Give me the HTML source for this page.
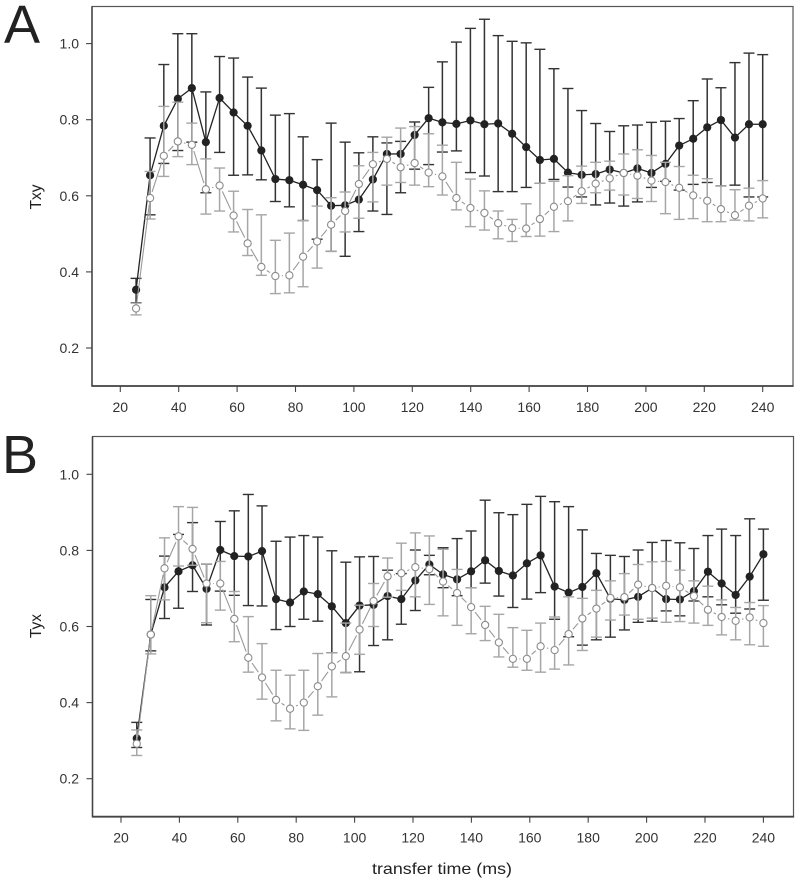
<!DOCTYPE html>
<html>
<head>
<meta charset="utf-8">
<title>Txy and Tyx versus transfer time</title>
<style>
html,body{margin:0;padding:0;background:#fff;width:798px;height:884px;overflow:hidden}
svg{display:block;font-family:"Liberation Sans",sans-serif}
</style>
</head>
<body>
<svg id="chart" xmlns="http://www.w3.org/2000/svg" width="798" height="884" viewBox="0 0 798 884"></svg>
<script>
const transferTimes = [25.4,30.2,34.9,39.7,44.5,49.3,54.0,58.8,63.6,68.3,73.1,77.9,82.6,87.4,92.2,97.0,101.7,106.5,111.3,116.0,120.8,125.6,130.3,135.1,139.9,144.7,149.4,154.2,159.0,163.7,168.5,173.3,178.0,182.8,187.6,192.4,197.1,201.9,206.7,211.4,216.2,221.0,225.7,230.5,235.3,240.0];
const xTicks = [20,40,60,80,100,120,140,160,180,200,220,240];
const yTicks = [0.2,0.4,0.6,0.8,1.0];

const txyDarkMean = [.353,.654,.784,.855,.883,.741,.857,.819,.784,.719,.644,.641,.629,.615,.574,.575,.590,.643,.710,.710,.760,.804,.793,.789,.798,.788,.790,.763,.728,.694,.697,.661,.655,.657,.669,.660,.672,.660,.684,.732,.750,.780,.799,.753,.788,.788];
const txyDarkUpper = [.383,.752,.945,1.026,1.026,.873,.966,.962,.912,.883,.812,.816,.755,.695,.791,.741,.713,.755,.739,.743,.794,.885,.952,1.004,1.040,1.064,1.021,1.006,1.002,.985,.934,.882,.824,.790,.769,.784,.786,.793,.796,.803,.850,.907,.884,.950,.975,.971];
const txyDarkLower = [.319,.550,.685,.719,.741,.608,.714,.654,.655,.642,.585,.571,.535,.486,.454,.441,.506,.560,.551,.608,.670,.682,.715,.718,.661,.652,.611,.611,.622,.633,.643,.623,.597,.576,.581,.573,.584,.622,.638,.615,.630,.635,.626,.628,.597,.597];
const txyOpenMean = [.304,.594,.705,.743,.734,.617,.627,.548,.475,.413,.389,.391,.440,.480,.524,.560,.631,.683,.697,.675,.686,.661,.651,.594,.568,.555,.528,.515,.514,.539,.571,.586,.612,.632,.646,.660,.653,.640,.636,.621,.601,.587,.565,.549,.574,.593];
const txyOpenUpper = [.318,.664,.835,.846,.791,.697,.673,.612,.564,.550,.483,.502,.535,.573,.595,.610,.679,.714,.754,.778,.782,.763,.733,.688,.644,.613,.560,.538,.579,.633,.638,.653,.678,.688,.691,.710,.721,.706,.688,.677,.654,.645,.626,.616,.620,.640];
const txyOpenLower = [.287,.539,.651,.703,.682,.552,.560,.505,.443,.391,.343,.345,.361,.410,.454,.505,.541,.584,.628,.635,.628,.624,.602,.563,.519,.510,.487,.480,.493,.494,.506,.534,.580,.608,.615,.602,.593,.585,.553,.538,.540,.532,.532,.536,.534,.542];

const tyxDarkMean = [.306,.579,.703,.745,.761,.699,.801,.785,.784,.798,.672,.663,.692,.685,.653,.609,.655,.657,.680,.672,.721,.763,.737,.724,.745,.774,.746,.734,.766,.787,.705,.689,.704,.740,.673,.670,.678,.701,.672,.671,.693,.744,.713,.683,.731,.790];
const tyxDarkUpper = [.348,.671,.785,.842,.873,.764,.876,.904,.947,.917,.824,.835,.839,.835,.799,.769,.783,.784,.748,.739,.801,.787,.807,.831,.851,.932,.899,.894,.921,.942,.928,.915,.854,.792,.787,.784,.801,.821,.826,.820,.805,.839,.856,.839,.883,.856];
const tyxDarkLower = [.282,.536,.621,.648,.692,.604,.693,.682,.655,.654,.592,.600,.619,.614,.531,.479,.481,.550,.565,.606,.642,.736,.702,.681,.702,.714,.680,.650,.672,.689,.619,.573,.551,.565,.572,.591,.611,.614,.641,.628,.667,.678,.657,.635,.646,.669];
const tyxOpenMean = [.292,.579,.753,.837,.804,.713,.713,.620,.518,.466,.407,.384,.400,.443,.495,.522,.592,.667,.732,.740,.756,.751,.718,.688,.651,.604,.558,.515,.515,.548,.538,.580,.621,.647,.675,.677,.710,.701,.707,.703,.680,.644,.625,.615,.624,.609];
const tyxOpenUpper = [.328,.681,.833,.915,.913,.764,.771,.692,.626,.555,.485,.472,.485,.529,.531,.609,.656,.713,.780,.819,.846,.838,.803,.750,.702,.653,.632,.597,.590,.609,.625,.678,.674,.695,.720,.739,.763,.770,.771,.748,.720,.706,.670,.650,.663,.655];
const tyxOpenLower = [.261,.528,.670,.759,.761,.610,.643,.560,.480,.409,.352,.331,.327,.367,.415,.479,.527,.600,.677,.695,.678,.658,.628,.603,.581,.563,.520,.493,.485,.480,.488,.499,.537,.572,.617,.630,.619,.622,.611,.613,.609,.603,.578,.565,.552,.548];

const NS = 'http://www.w3.org/2000/svg';
const root = document.getElementById('chart');

function make(tag, attrs, parent) {
  const el = document.createElementNS(NS, tag);
  for (const k in attrs) el.setAttribute(k, attrs[k]);
  parent.appendChild(el);
  return el;
}

function drawSeries(g, xs, mean, upper, lower, xAt, yAt, open, label) {
  const stroke = open ? '#a6a6a6' : '#333';
  const lineColor = open ? '#999' : '#222';
  for (let i = 0; i < xs.length; i++) {
    const x = xAt(xs[i]);
    const stem = make('line', {x1:x, x2:x, y1:yAt(upper[i]), y2:yAt(lower[i]), stroke:stroke, 'stroke-width':1.5}, g);
    
    
    [upper[i], lower[i]].forEach(function (v) {
      const cap = make('line', {x1:x-5.5, x2:x+5.5, y1:yAt(v), y2:yAt(v), stroke:stroke, 'stroke-width':1.4}, g);
      
      
    });
  }
  const gap = open ? 6.5 : 0;
  for (let i = 0; i + 1 < xs.length; i++) {
    const x1 = xAt(xs[i]), y1 = yAt(mean[i]), x2 = xAt(xs[i+1]), y2 = yAt(mean[i+1]);
    const len = Math.hypot(x2-x1, y2-y1);
    if (len <= 2*gap + 0.5) continue;
    const ux = (x2-x1)/len, uy = (y2-y1)/len;
    const seg = make('line', {x1:x1+ux*gap, y1:y1+uy*gap, x2:x2-ux*gap, y2:y2-uy*gap, stroke:lineColor, 'stroke-width':open ? 1.1 : 1.3}, g);
    
    
  }
  for (let i = 0; i < xs.length; i++) {
    const pt = make('circle', {cx:xAt(xs[i]), cy:yAt(mean[i]), r:open ? 3.6 : 4.1, fill:open ? '#fff' : '#222', stroke:open ? '#8c8c8c' : 'none', 'stroke-width':open ? 1.1 : 0}, g);
    
    
  }
}

function drawPanel(opts) {
  const g = make('g', {}, root);
  
  
  const xAt = function (u) { return opts.x20 + (u - 20) * 2.92; };
  const yAt = function (v) { return opts.y02 - (v - 0.2) * 380.5; };

  const box = make('rect', {x:opts.left, y:opts.top, width:opts.right-opts.left, height:opts.bottom-opts.top, fill:'#fff', stroke:'#555', 'stroke-width':1.2}, g);
  
  
  const xAxis = make('line', {x1:opts.left-0.6, x2:opts.right+0.6, y1:opts.bottom, y2:opts.bottom, stroke:'#444', 'stroke-width':1.8}, g);
  
  
  const yAxis = make('line', {x1:opts.left, x2:opts.left, y1:opts.top, y2:opts.bottom, stroke:'#444', 'stroke-width':1.5}, g);
  
  

  xTicks.forEach(function (t) {
    const x = xAt(t);
    const tick = make('line', {x1:x, x2:x, y1:opts.bottom, y2:opts.bottom+6, stroke:'#444', 'stroke-width':1.1}, g);
    
    
    const lab = make('text', {x:x, y:opts.bottom+26, 'text-anchor':'middle', 'font-size':14, fill:'#333'}, g);
    
    
    lab.textContent = String(t);
  });
  yTicks.forEach(function (t) {
    const y = yAt(t);
    const tick = make('line', {x1:opts.left-6, x2:opts.left, y1:y, y2:y, stroke:'#444', 'stroke-width':1.1}, g);
    
    
    const lab = make('text', {x:79, y:y+5, 'text-anchor':'end', 'font-size':14, fill:'#333'}, g);
    
    
    lab.textContent = t.toFixed(1);
  });

  const yTitle = make('text', {transform:'translate(41 ' + opts.titleY + ') rotate(-90)', 'text-anchor':'middle', 'font-size':15.5, fill:'#222'}, g);
  
  
  yTitle.textContent = opts.yTitle;

  const letter = make('text', {x:opts.letterX, y:opts.letterY, 'font-size':54, fill:'#222'}, g);
  
  
  letter.textContent = opts.letter;

  drawSeries(g, transferTimes, opts.darkMean, opts.darkUpper, opts.darkLower, xAt, yAt, false, 'dark-series');
  drawSeries(g, transferTimes, opts.openMean, opts.openUpper, opts.openLower, xAt, yAt, true, 'open-series');
}

drawPanel({name:'panel-a-txy', left:92, right:793, top:6.5, bottom:386, x20:120.3, y02:348, yTitle:'Txy', titleY:197, letter:'A', letterX:4, letterY:43,
  darkMean:txyDarkMean, darkUpper:txyDarkUpper, darkLower:txyDarkLower, openMean:txyOpenMean, openUpper:txyOpenUpper, openLower:txyOpenLower});
drawPanel({name:'panel-b-tyx', left:92.5, right:793.5, top:436.5, bottom:816.7, x20:121, y02:778.7, yTitle:'Tyx', titleY:626, letter:'B', letterX:2, letterY:473,
  darkMean:tyxDarkMean, darkUpper:tyxDarkUpper, darkLower:tyxDarkLower, openMean:tyxOpenMean, openUpper:tyxOpenUpper, openLower:tyxOpenLower});

const xTitle = make('text', {x:442, y:874, 'text-anchor':'middle', 'font-size':16, fill:'#222', textLength:140, lengthAdjust:'spacingAndGlyphs'}, root);


xTitle.textContent = 'transfer time (ms)';
</script>
</body>
</html>
